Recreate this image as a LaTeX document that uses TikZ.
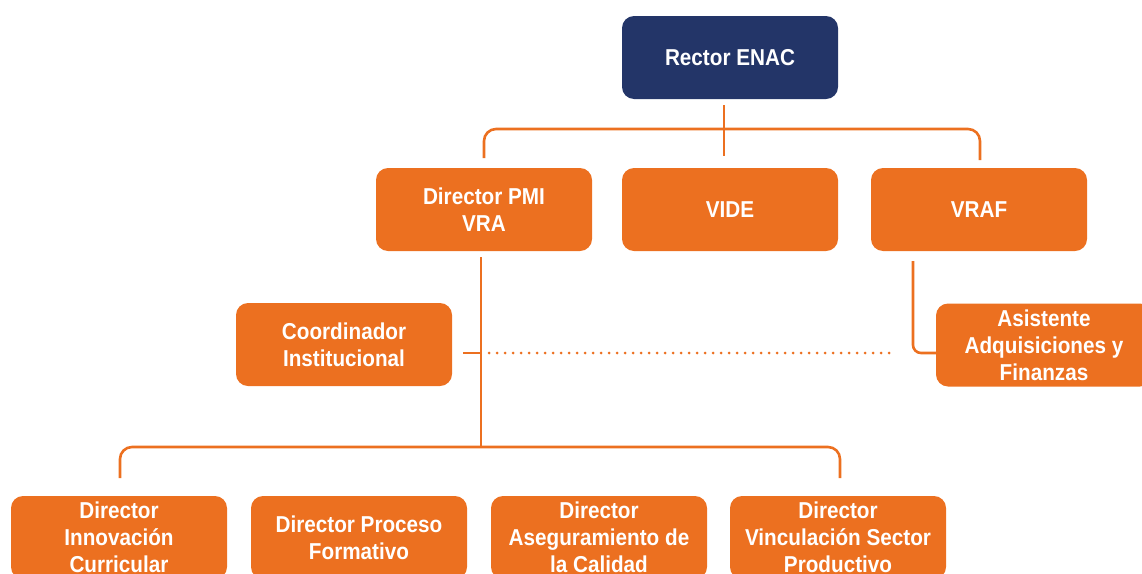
\documentclass[tikz,border=0pt]{standalone}
\usepackage{fontspec}
\setmainfont{Liberation Sans}[FakeStretch=0.9]
\definecolor{enacorange}{HTML}{EC7020}
\definecolor{enacnavy}{HTML}{233568}
\tikzset{
  box/.style={rectangle, rounded corners=12pt, fill=enacorange, text=white,
    minimum width=216pt, minimum height=83pt, inner sep=0pt, align=center,
    font=\fontsize{23}{27}\selectfont\bfseries},
  topbox/.style={box, fill=enacnavy},
  link/.style={draw=enacorange, line width=2.6pt},
  dotlink/.style={draw=enacorange, line width=3pt, line cap=round, dash pattern=on 0pt off 8pt}
}
\begin{document}
\begin{tikzpicture}[x=1pt,y=-1pt]
\useasboundingbox (0,0) rectangle (1142,573);
\clip (0,0) rectangle (1142,573);
\node[topbox] (rector) at (730,57.5) {Rector ENAC};
\node[box] (pmi) at (484,209.5) {Director PMI\\VRA};
\node[box] (vide) at (730,209.5) {VIDE};
\node[box] (vraf) at (979,209.5) {VRAF};
\node[box] (coord) at (344,344.5) {Coordinador\\Institucional};
\node[box] (asis) at (1044,345) {Asistente\\Adquisiciones y\\Finanzas};
\node[box] (innov) at (119,537.5) {Director\\Innovación\\Curricular};
\node[box] (proc) at (359,537.5) {Director Proceso\\Formativo};
\node[box] (aseg) at (599,537.5) {Director\\Aseguramiento de\\la Calidad};
\node[box] (vinc) at (838,537.5) {Director\\Vinculación Sector\\Productivo};
% coordinates
\coordinate (rtop) at (724,105);
\coordinate (rbot) at (724,156);
\coordinate (bl) at (484,158);
\coordinate (br) at (980,160);
\coordinate (pmidown) at (481,257);
\coordinate (pmibot) at (481,447);
\coordinate (coordend) at (463,353);
\coordinate (coordjoin) at (481,353);
\coordinate (dotstart) at (489,353);
\coordinate (dotend) at (893,353);
\coordinate (vrafdown) at (913,261);
\coordinate (bbl) at (120,478);
\coordinate (bbr) at (840,478);
% connectors
\draw[link] (rtop) -- (rbot);
\draw[link, rounded corners=12pt] (bl) -- (484,129) -- (980,129) -- (br);
\draw[link] (pmidown) -- (pmibot);
\draw[link, rounded corners=12pt] (bbl) -- (120,447) -- (840,447) -- (bbr);
\draw[link] (coordend) -- (coordjoin);
\draw[dotlink] (dotstart) -- (dotend);
\draw[link, rounded corners=8pt] (vrafdown) -- (913,353) -- (asis.west |- 0,353);
\end{tikzpicture}
\end{document}
